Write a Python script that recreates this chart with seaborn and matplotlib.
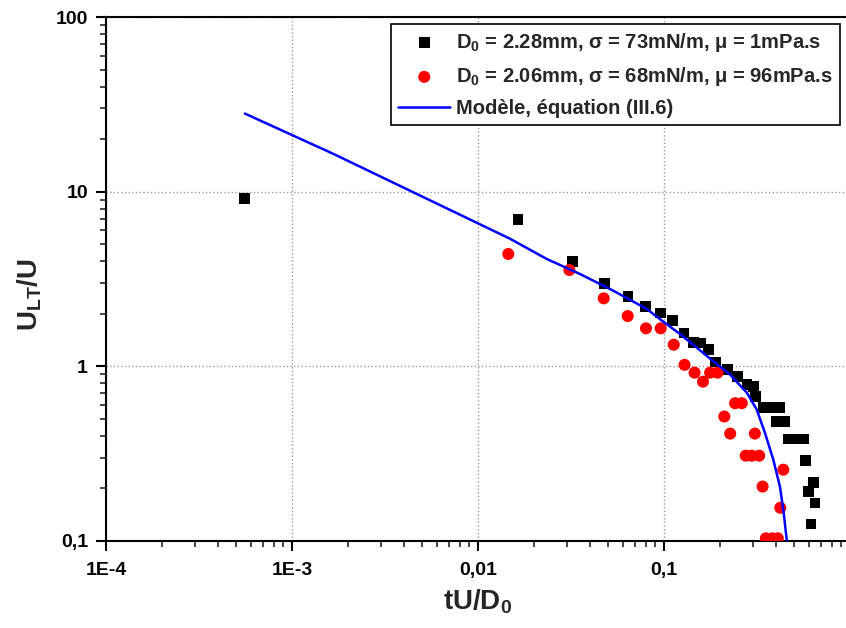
import matplotlib
matplotlib.use("Agg")
import matplotlib.pyplot as plt
import seaborn as sns
from matplotlib.ticker import FixedLocator, FixedFormatter, LogLocator, NullFormatter

# D0 = 2.28mm, water (black squares)
water_x = [5.58e-4, 0.0164, 0.0323, 0.048, 0.064, 0.0798, 0.0955, 0.111, 0.128, 0.144,
           0.157, 0.174, 0.190, 0.220, 0.249, 0.279, 0.302, 0.310, 0.342, 0.379,
           0.420, 0.404, 0.443, 0.466, 0.517, 0.561, 0.578, 0.635, 0.600, 0.649, 0.617]
water_y = [9.1, 6.9, 3.98, 2.99, 2.50, 2.21, 2.02, 1.83, 1.55, 1.37,
           1.36, 1.25, 1.06, 0.961, 0.873, 0.788, 0.764, 0.675, 0.581, 0.581,
           0.581, 0.483, 0.483, 0.384, 0.384, 0.384, 0.290, 0.216, 0.193, 0.165, 0.125]

# D0 = 2.06mm, viscous (red circles)
visc_x = [0.01455, 0.031, 0.0474, 0.0638, 0.080, 0.096, 0.1128, 0.129, 0.146, 0.162,
          0.177, 0.194, 0.211, 0.227, 0.241, 0.262, 0.275, 0.296, 0.308, 0.325,
          0.339, 0.353, 0.384, 0.409, 0.422, 0.438]
visc_y = [4.40, 3.56, 2.45, 1.94, 1.65, 1.65, 1.33, 1.02, 0.920, 0.817,
          0.920, 0.920, 0.516, 0.412, 0.615, 0.615, 0.308, 0.308, 0.412, 0.308,
          0.205, 0.1036, 0.1036, 0.1036, 0.155, 0.256]

# model curve, points
model_x = [5.58e-4, 1.66e-3, 0.0149, 0.0234, 0.0353, 0.0534, 0.0808, 0.0992, 0.122,
           0.150, 0.184, 0.226, 0.279, 0.315, 0.349, 0.387, 0.420, 0.438, 0.457]
model_y = [28.0, 16.5, 5.37, 4.12, 3.38, 2.71, 2.13, 1.80, 1.53,
           1.28, 1.07, 0.899, 0.706, 0.566, 0.416, 0.292, 0.205, 0.151, 0.1013]

x_ticks = [1e-4, 1e-3, 1e-2, 1e-1, 1]
x_tick_labels = ["1E-4", "1E-3", "0,01", "0,1", "1"]
y_ticks = [0.1, 1, 10, 100]
y_tick_labels = ["0,1", "1", "10", "100"]

label_water = "D$_0$ = 2.28mm, σ = 73mN/m, μ = 1mPa.s"
label_visc = "D$_0$ = 2.06mm, σ = 68mN/m, μ = 96mPa.s"
label_model = "Modèle, équation (III.6)"

sns.set_style("ticks")
plt.rcParams["font.family"] = ["Liberation Sans", "DejaVu Sans"]
plt.rcParams["font.weight"] = "bold"
plt.rcParams["mathtext.fontset"] = "custom"
plt.rcParams["mathtext.rm"] = "Liberation Sans:bold"
plt.rcParams["mathtext.it"] = "Liberation Sans:bold"
plt.rcParams["mathtext.bf"] = "Liberation Sans:bold"
plt.rcParams["mathtext.default"] = "bf"

fig = plt.figure(figsize=(8.46, 6.28), dpi=100)
ax = fig.add_axes([106 / 846, 87 / 628, 744 / 846, 524 / 628])

sns.scatterplot(x=water_x, y=water_y, marker="s", color="black", s=60,
                edgecolor="none", label=label_water, ax=ax, zorder=3)
sns.scatterplot(x=visc_x, y=visc_y, marker="o", color="red", s=75,
                edgecolor="none", label=label_visc, ax=ax, zorder=3)
sns.lineplot(x=model_x, y=model_y, color="blue", lw=1.8, sort=False,
             estimator=None, label=label_model, ax=ax, zorder=4)

ax.set_xscale("log")
ax.set_yscale("log")
ax.set_xlim(1e-4, 1)
ax.set_ylim(0.1, 100)

ax.xaxis.set_major_locator(FixedLocator(x_ticks))
ax.xaxis.set_major_formatter(FixedFormatter(x_tick_labels))
ax.yaxis.set_major_locator(FixedLocator(y_ticks))
ax.yaxis.set_major_formatter(FixedFormatter(y_tick_labels))
ax.xaxis.set_minor_locator(LogLocator(base=10, subs=range(2, 10), numticks=20))
ax.yaxis.set_minor_locator(LogLocator(base=10, subs=range(2, 10), numticks=20))
ax.xaxis.set_minor_formatter(NullFormatter())
ax.yaxis.set_minor_formatter(NullFormatter())

ax.tick_params(which="major", direction="out", length=7, width=1.5, labelsize=14, pad=6, colors="black")
ax.tick_params(which="minor", direction="out", length=4, width=1.2)
ax.tick_params(axis="x", pad=8)

for sp in ["left", "bottom", "top"]:
    ax.spines[sp].set_linewidth(1.5)
    ax.spines[sp].set_color("black")
ax.spines["right"].set_visible(False)

ax.grid(True, which="major", linestyle=":", color="#999999", linewidth=1)

ax.set_xlabel("tU/D$_0$", fontsize=20, fontweight="bold", labelpad=6)
ax.set_ylabel("U$_{LT}$/U", fontsize=20, fontweight="bold", labelpad=8, y=0.47)

leg = ax.legend(loc="upper right", bbox_to_anchor=(840 / 846, 1 - 24 / 628),
                bbox_transform=fig.transFigure, borderaxespad=0, fontsize=14.5,
                frameon=True, fancybox=False, framealpha=1, edgecolor="black",
                borderpad=0.35, handlelength=2.6, handletextpad=0.3, labelspacing=0.55)
leg.get_frame().set_linewidth(1.2)

fig.savefig("out.png", dpi=100)
